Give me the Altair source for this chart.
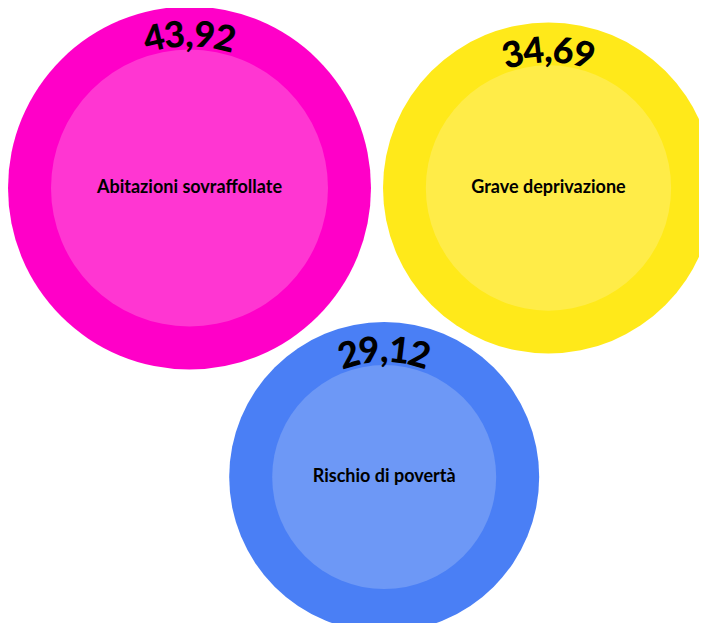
import math
import altair as alt
import pandas as pd

# ---- data ----
categorie = ["Abitazioni sovraffollate", "Grave deprivazione", "Rischio di povertà"]
valori = [43.92, 34.69, 29.12]
colori_esterni = ["#ff00c8", "#ffe91a", "#4a7ff5"]
colori_interni = ["#ff36d2", "#ffec48", "#6d98f6"]

# ---- styling / layout parameters ----
W, H = 691, 615
SIZE_DOMAIN = [min(valori), max(valori)]
OUTER_RANGE = [310 ** 2, 363 ** 2]   # symbol size = diameter^2
INNER_RANGE = [224 ** 2, 277 ** 2]
PAD = 12
NUM_FS = 36
LBL_FS = 18
FONT = "Lato"


def lin(v, rng):
    t = (v - SIZE_DOMAIN[0]) / (SIZE_DOMAIN[1] - SIZE_DOMAIN[0])
    return rng[0] + t * (rng[1] - rng[0])


r_out = [math.sqrt(lin(v, OUTER_RANGE)) / 2 for v in valori]
r_in = [math.sqrt(lin(v, INNER_RANGE)) / 2 for v in valori]

# simple three-circle packing: A at origin, B to its right, C below both
rA, rB, rC = r_out
dAB, dAC, dBC = rA + rB + PAD, rA + rC + PAD, rB + rC + PAD
xC = (dAC ** 2 - dBC ** 2 + dAB ** 2) / (2 * dAB)
yC = math.sqrt(dAC ** 2 - xC ** 2)
cx = [0.0, dAB, xC]
cy = [0.0, 0.0, yC]

df = pd.DataFrame({
    "categoria": categorie,
    "valore": valori,
    "x": cx,
    "y": cy,
})

# characters of each value label placed along the inner edge of the ring
rows = []
for cat, v, x0, y0, ri in zip(categorie, valori, cx, cy, r_in):
    s = f"{v:.2f}".replace(".", ",")
    widths = [(0.26 if ch == "," else 0.58) * NUM_FS for ch in s]
    total = sum(widths)
    R = ri + 3
    Rmid = R + NUM_FS * 0.36
    pos = -total / 2
    for ch, w in zip(s, widths):
        c = pos + w / 2
        pos += w
        th = c / Rmid
        rows.append({
            "ch": ch,
            "x": x0 + R * math.sin(th),
            "y": y0 - R * math.cos(th),
            "angle": (math.degrees(th) + 360) % 360,
        })
chars = pd.DataFrame(rows)

x_scale = alt.Scale(domain=[-181.5, W - 181.5], nice=False, zero=False)
y_scale = alt.Scale(domain=[-180, H - 180], nice=False, zero=False, reverse=True)

X = alt.X("x:Q", scale=x_scale, axis=None)
Y = alt.Y("y:Q", scale=y_scale, axis=None)

base = alt.Chart(df).encode(x=X, y=Y)

outer = base.mark_circle(opacity=1, strokeWidth=0).encode(
    size=alt.Size("valore:Q", scale=alt.Scale(domain=SIZE_DOMAIN, range=OUTER_RANGE), legend=None),
    color=alt.Color("categoria:N", scale=alt.Scale(domain=categorie, range=colori_esterni), legend=None),
)

inner = base.mark_circle(opacity=1, strokeWidth=0).encode(
    size=alt.Size("valore:Q", scale=alt.Scale(domain=SIZE_DOMAIN, range=INNER_RANGE), legend=None),
    color=alt.Color("categoria:N", scale=alt.Scale(domain=categorie, range=colori_interni), legend=None),
)

labels = base.mark_text(font=FONT, fontSize=LBL_FS, fontWeight="bold", color="#000000",
                        baseline="middle", align="center").encode(text="categoria:N")

nums = alt.Chart(chars).mark_text(font=FONT, fontSize=NUM_FS, fontWeight=900, color="#000000",
                                  baseline="alphabetic", align="center").encode(
    x=X, y=Y,
    text="ch:N",
    angle=alt.Angle("angle:Q", scale=None),
)

chart = alt.layer(outer, inner, labels, nums).resolve_scale(
    size="independent", color="independent"
).properties(
    width=W, height=H, padding=0, autosize=alt.AutoSizeParams(type="none")
).configure_view(stroke=None)

chart.save("out.html", embed_options={"renderer": "svg", "actions": False})
